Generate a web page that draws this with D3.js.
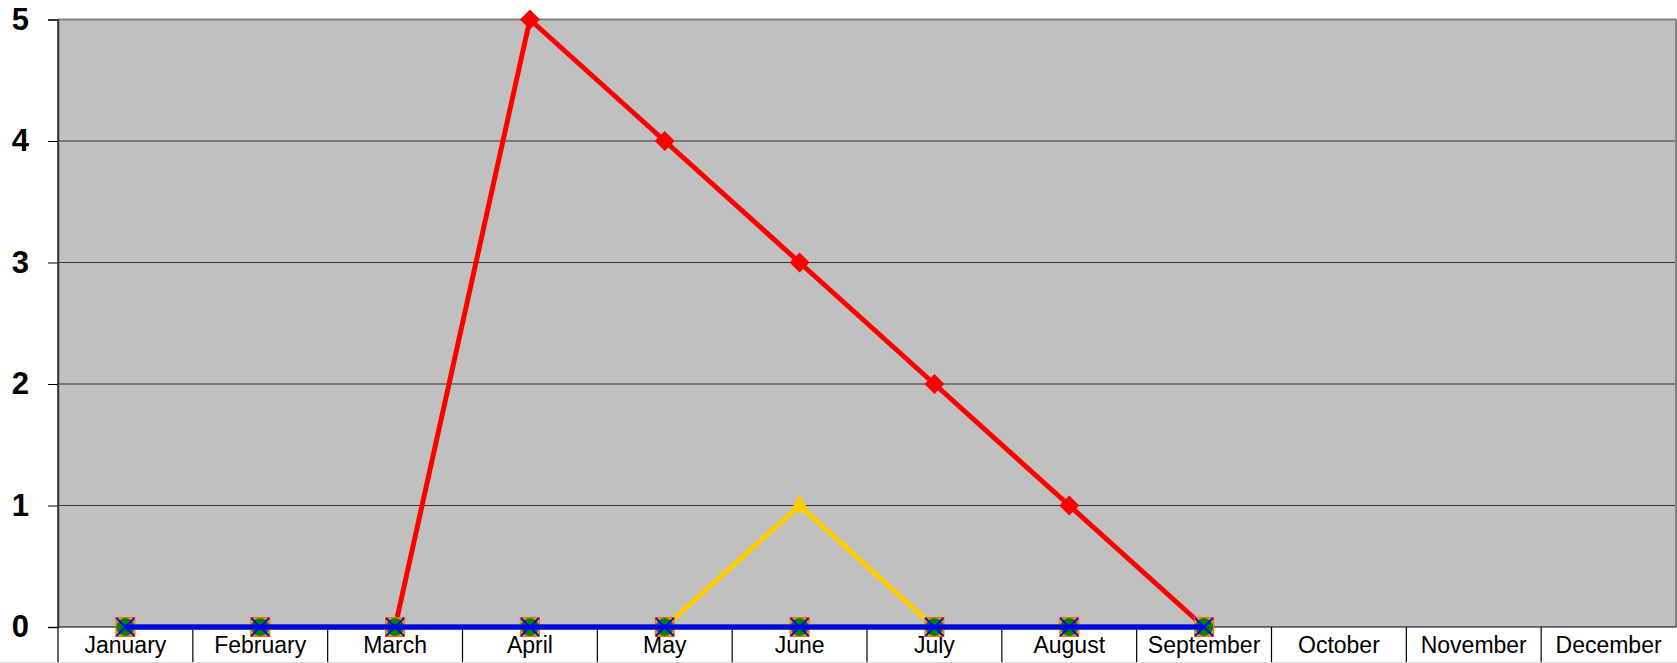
<!DOCTYPE html>
<html>
<head>
<meta charset="utf-8">
<script src="https://cdn.jsdelivr.net/npm/d3@7"></script>
<style>
  html, body { margin: 0; padding: 0; background: #fff; }
  svg { display: block; }
</style>
</head>
<body>
<div id="chart"></div>
<script>
const months = ["January", "February", "March", "April", "May", "June", "July", "August", "September", "October", "November", "December"];
const yTicks = [0, 1, 2, 3, 4, 5];

// series values, Jan..Sep (nothing after September)
const redValues = [0, 0, 0, 5, 4, 3, 2, 1, 0];
const yellowValues = [0, 0, 0, 0, 0, 1, 0, 0, 0];
const orangeValues = [0, 0, 0, 0, 0, 0, 0, 0, 0];
const greenValues = [0, 0, 0, 0, 0, 0, 0, 0, 0];
const blueValues = [0, 0, 0, 0, 0, 0, 0, 0, 0];

const width = 1677;
const height = 663;
const plotLeft = 58, plotRight = 1676, plotTop = 19.5, plotBottom = 627;

const svg = d3.select("#chart")
    .append("svg")
    .attr("width", width)
    .attr("height", height);

const x = d3.scaleBand().domain(months).range([plotLeft, plotRight]);
const y = d3.scaleLinear().domain([0, 5]).range([plotBottom, plotTop]);
const cx = m => x(m) + x.bandwidth() / 2;

// plot background
svg.append("rect")
    .attr("x", plotLeft).attr("y", plotTop)
    .attr("width", plotRight - plotLeft).attr("height", plotBottom - plotTop)
    .attr("fill", "#c0c0c0");

// gridlines
svg.append("g")
    .selectAll("line")
    .data(yTicks.filter(d => d > 0 && d < 5))
    .join("line")
    .attr("x1", plotLeft).attr("x2", plotRight)
    .attr("y1", d => y(d)).attr("y2", d => y(d))
    .attr("stroke", "#333")
    .attr("stroke-width", 1.2);

// top / right border
svg.append("line")
    .attr("x1", plotLeft).attr("x2", plotRight).attr("y1", plotTop).attr("y2", plotTop)
    .attr("stroke", "#808080").attr("stroke-width", 2);
svg.append("line")
    .attr("x1", plotRight).attr("x2", plotRight).attr("y1", plotTop).attr("y2", plotBottom)
    .attr("stroke", "#808080").attr("stroke-width", 2);

// y axis
const yAxis = svg.append("g")
    .attr("transform", `translate(${plotLeft},0)`)
    .call(d3.axisLeft(y).tickValues(yTicks).tickSize(10).tickPadding(19).tickFormat(d3.format("d")));
yAxis.select(".domain").attr("stroke", "#333").attr("stroke-width", 1.5);
yAxis.selectAll(".tick line").attr("stroke", "#000");
yAxis.selectAll("text")
    .attr("font-family", "Liberation Sans, Arial, sans-serif")
    .attr("font-size", "31px")
    .attr("font-weight", "bold")
    .attr("fill", "#000");

// x axis: line and band separators
svg.append("line")
    .attr("x1", plotLeft).attr("x2", plotRight).attr("y1", plotBottom).attr("y2", plotBottom)
    .attr("stroke", "#000").attr("stroke-width", 1);
svg.append("g")
    .selectAll("line")
    .data(months.slice(1))
    .join("line")
    .attr("x1", d => x(d)).attr("x2", d => x(d))
    .attr("y1", plotBottom).attr("y2", height)
    .attr("stroke", "#000").attr("stroke-width", 1.2);
svg.append("line")
    .attr("x1", plotLeft).attr("x2", plotLeft).attr("y1", plotTop).attr("y2", height)
    .attr("stroke", "#333").attr("stroke-width", 1.5);
svg.append("line")
    .attr("x1", 0).attr("x2", width).attr("y1", height - 0.5).attr("y2", height - 0.5)
    .attr("stroke", "#ddd").attr("stroke-width", 1);

svg.append("g")
    .selectAll("text")
    .data(months)
    .join("text")
    .attr("x", d => cx(d))
    .attr("y", 653)
    .attr("text-anchor", "middle")
    .attr("font-family", "Liberation Sans, Arial, sans-serif")
    .attr("font-size", "23px")
    .attr("fill", "#000")
    .text(d => d);

const line = d3.line()
    .x((d, i) => cx(months[i]))
    .y(d => y(d));

function drawLine(values, color) {
    svg.append("path")
        .datum(values)
        .attr("fill", "none")
        .attr("stroke", color)
        .attr("stroke-width", 5)
        .attr("stroke-linejoin", "round")
        .attr("d", line);
}

const series = [
    { values: redValues, color: "#ff0000", marker: "diamond" },
    { values: yellowValues, color: "#ffcc00", marker: "triangle" },
    { values: orangeValues, color: "#ff9900", marker: "square" },
    { values: greenValues, color: "#008000", marker: "circle" },
    { values: blueValues, color: "#0000ff", marker: "x" }
];

series.forEach(s => {
    drawLine(s.values, s.color);
    const g = svg.append("g");
    s.values.forEach((v, i) => {
        const px = cx(months[i]), py = y(v);
        if (s.marker === "diamond") {
            g.append("path")
                .attr("d", `M${px},${py - 10}L${px + 10},${py}L${px},${py + 10}L${px - 10},${py}Z`)
                .attr("fill", s.color);
        } else if (s.marker === "triangle") {
            g.append("path")
                .attr("d", `M${px},${py - 11}L${px + 10},${py + 7}L${px - 10},${py + 7}Z`)
                .attr("fill", s.color);
        } else if (s.marker === "square") {
            g.append("rect")
                .attr("x", px - 9.5).attr("y", py - 9.5)
                .attr("width", 19).attr("height", 19)
                .attr("fill", s.color)
                .attr("stroke", "#ff6600").attr("stroke-width", 1);
        } else if (s.marker === "circle") {
            g.append("circle")
                .attr("cx", px).attr("cy", py).attr("r", 9)
                .attr("fill", s.color);
        } else if (s.marker === "x") {
            g.append("path")
                .attr("d", `M${px - 9},${py - 9}L${px + 9},${py + 9}M${px + 9},${py - 9}L${px - 9},${py + 9}`)
                .attr("stroke", s.color)
                .attr("stroke-width", 1.8);
        }
    });
});
</script>
</body>
</html>
